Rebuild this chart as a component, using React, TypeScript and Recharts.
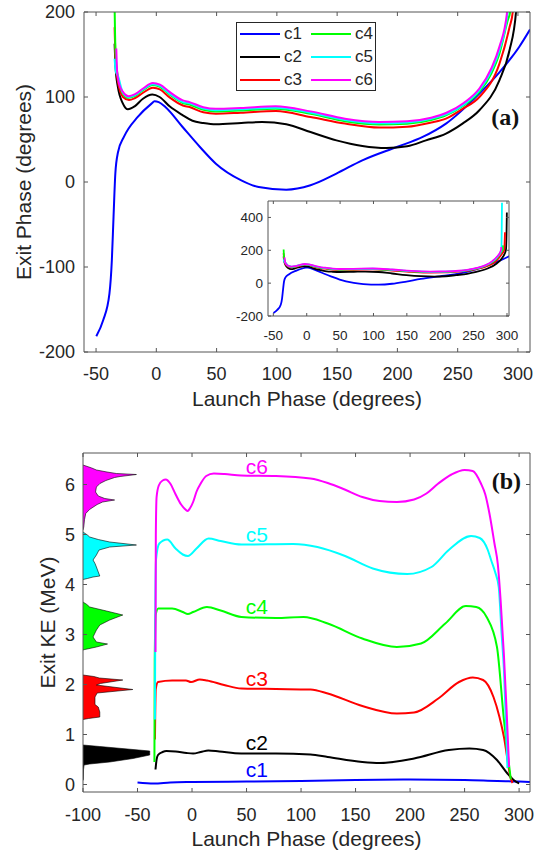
import { Area, ComposedChart, Legend, Line, ReferenceDot, XAxis, YAxis } from 'recharts';

const FONT = '"Liberation Sans", Arial, Helvetica, sans-serif';
const SERIF = '"Liberation Serif", "DejaVu Serif", serif';
const AXIS = '#555';
const TEXT = '#262626';

const names = ['c1', 'c2', 'c3', 'c4', 'c5', 'c6'];
const colors = ['#0000ff', '#000000', '#ff0000', '#00ff00', '#00ffff', '#ff00ff'];

// panel (a): [launch phase, exit phase]
const phaseC1 = [[-49.8, -181.5], [-44.1, -162.7], [-38.9, -131.3], [-36.9, -92], [-35.5, -41], [-34, 10], [-31.8, 35], [-26.9, 53], [-15.4, 76.5], [-4, 92.2], [-1.5, 95], [2, 94], [7.5, 88.2], [21.8, 64.7], [36.2, 41.2], [49.4, 21.6], [70.5, 2], [84.9, -5.9], [107.8, -9], [127.9, -3.8], [149.4, 9.9], [170.9, 25.5], [199.5, 41.2], [221, 53], [240.3, 68.7], [268, 104], [284.6, 129], [301, 158.8], [310, 179.3]];
const phaseC2 = [[-34.6, 162.8], [-33.8, 135], [-31.9, 111.8], [-27.7, 92.2], [-23.6, 85.5], [-18, 89], [-11.1, 98], [-3.3, 102.8], [2.7, 100], [11, 89], [22, 78.5], [30, 72], [39, 69.4], [49.4, 67.9], [70.5, 69.4], [87.7, 70.6], [107.8, 67.9], [127.9, 58.8], [149.4, 49], [170.9, 42.4], [190.9, 40], [208.1, 42], [223.7, 49], [240.3, 57], [254, 68.7], [268, 84.4], [284.6, 119.6], [293, 155], [298.4, 200], [299.3, 300], [299.8, 430]];
const phaseC3 = [[-34.6, 182], [-33.8, 145], [-31.9, 118], [-27.7, 100], [-22.7, 96.5], [-18, 98.5], [-11, 105], [-2.8, 111], [3, 109], [11, 99.5], [22, 90], [27.6, 88.2], [39, 82], [49.4, 80.4], [70, 81.5], [99.2, 83.5], [127.9, 76.5], [156.5, 68.7], [185, 64], [208, 65], [228, 70], [240.3, 74.6], [254, 86], [268, 100], [284.6, 139], [293, 182], [295.7, 200], [296.5, 250], [297, 310]];
const phaseC4 = [[-34.6, 205], [-33.8, 150], [-31.9, 124], [-27.7, 104], [-23, 99], [-18, 101], [-11, 108], [-3, 114], [3, 112], [11, 103], [22, 93], [27.6, 91], [39, 85], [49.4, 83], [70, 84], [99, 86.1], [128, 80.2], [156.5, 71.6], [185, 67.7], [208, 68.6], [228, 73], [240.3, 78.5], [255, 90], [268, 105.9], [278, 128], [284.6, 151], [291.5, 190], [293.5, 200], [294, 230]];
const phaseC5 = [[-34.6, 145], [-33.6, 130], [-31.9, 125], [-27.7, 105], [-23, 100], [-18, 102], [-11, 109], [-3, 115], [3, 113], [11, 104], [22, 94], [27.6, 92.5], [39, 86.5], [49.4, 84.5], [70, 85.5], [99, 87.5], [128, 81.5], [156.5, 73], [185, 69], [208, 70], [228, 74.5], [240.3, 79.6], [255, 91], [268, 108], [278, 131], [284.6, 155], [291.5, 200], [292.5, 490]];
const phaseC6 = [[-33.2, 157], [-32.5, 130], [-31, 116], [-27.7, 106], [-23, 101], [-18, 103], [-11, 110], [-3, 116.5], [3, 114.5], [11, 106], [22, 96], [27.6, 94], [39, 88], [49.4, 86.1], [70, 87], [99, 89], [128, 83.1], [156.5, 74.5], [185, 70.6], [208, 71.4], [228, 75.5], [240.3, 81.2], [255, 93], [268, 110], [278, 134], [284.6, 159], [291, 200], [291.5, 220]];

// panel (b): [launch phase, exit KE]
const keC1 = [[-50, 0.04], [-35, 0.02], [-20, 0.04], [0, 0.05], [50, 0.06], [100, 0.07], [150, 0.09], [200, 0.1], [250, 0.09], [280, 0.07], [300, 0.06], [310, 0.05]];
const keC2 = [[-33.5, 0.3], [-32.5, 0.5], [-31.2, 0.59], [-27, 0.65], [-23.5, 0.67], [-15, 0.66], [-5, 0.63], [1, 0.62], [8, 0.65], [15, 0.68], [25, 0.66], [45, 0.62], [77, 0.62], [108.7, 0.6], [124.5, 0.55], [156.2, 0.45], [172.1, 0.43], [203.7, 0.52], [235.5, 0.69], [254.4, 0.72], [267, 0.69], [279.7, 0.49], [289.3, 0.22], [295.6, 0.08], [300, 0.02]];
const keC3 = [[-34, 0.9], [-33.3, 1.9], [-31.2, 2.05], [-18.3, 2.08], [-5.6, 2.08], [-0.9, 2.05], [7.1, 2.1], [13.7, 2.08], [29.4, 1.99], [45.3, 1.92], [77, 1.91], [108.7, 1.9], [124.5, 1.82], [156.2, 1.57], [187.9, 1.42], [203.7, 1.44], [225.9, 1.72], [244.9, 2.05], [257.5, 2.14], [267, 2.09], [276.5, 1.75], [282, 1.35], [286.1, 0.95], [292.4, 0.12], [294, 0.03]];
const keC4 = [[-34.5, 0.45], [-34.2, 2.5], [-33.3, 3.4], [-30.9, 3.52], [-18.3, 3.52], [-8.5, 3.45], [-3.8, 3.41], [1, 3.45], [13.7, 3.55], [26.3, 3.48], [45.3, 3.35], [77, 3.33], [102.3, 3.35], [124.5, 3.22], [156.2, 2.92], [187.9, 2.75], [210.1, 2.82], [232.3, 3.22], [251.2, 3.57], [260.7, 3.55], [270.2, 3.35], [279.7, 2.75], [286.1, 1.29], [292.4, 0.1]];
const keC5 = [[-34, 1.3], [-33.7, 3.5], [-33, 4.5], [-30, 4.82], [-22.8, 4.9], [-15.1, 4.72], [-8.5, 4.6], [-3.8, 4.57], [4.1, 4.72], [15.2, 4.92], [26.3, 4.87], [45.3, 4.8], [92.8, 4.81], [115, 4.75], [140.4, 4.57], [165.8, 4.32], [197.4, 4.21], [219.6, 4.35], [235.5, 4.69], [256, 4.97], [263.9, 4.93], [271.3, 4.69], [274.3, 4.49], [278, 4.25], [281.3, 3.95], [284, 3.0], [286.1, 2.29], [288, 1.2], [289.3, 0.33]];
const keC6 = [[-33.5, 2.65], [-33.2, 5.0], [-32.5, 5.75], [-30.5, 5.98], [-27, 6.08], [-24, 6.1], [-20, 6.02], [-15, 5.8], [-10, 5.6], [-6, 5.5], [-4, 5.47], [-2, 5.52], [1, 5.65], [4, 5.85], [8, 6.02], [13, 6.17], [20, 6.22], [30, 6.21], [45, 6.18], [77, 6.17], [108.7, 6.12], [124.5, 6.03], [140, 5.9], [156.2, 5.75], [172, 5.67], [187.9, 5.65], [203.7, 5.7], [215, 5.82], [225.9, 6.02], [238, 6.2], [250, 6.29], [257.5, 6.27], [265, 6.02], [269, 5.8], [272.8, 5.42], [277.4, 4.82], [280.5, 4.4], [283, 3.7], [286, 2.62], [288.5, 1.5], [290.8, 0.35]];

// energy histograms on the left of (b): [exit KE, launch-axis extent]
const histC2 = [[0.79, -100], [0.76, -84.6], [0.7, -54.1], [0.67, -38.8], [0.59, -38.8], [0.52, -54.1], [0.45, -75.5], [0.41, -93.9], [0.39, -99], [0.3, -99.5], [0.1, -99.7], [0.08, -100]];
const histC3 = [[2.19, -100], [2.16, -90], [2.13, -85], [2.09, -63.5], [2.02, -84], [1.99, -87.7], [1.9, -54.3], [1.83, -87], [1.75, -89], [1.6, -89], [1.55, -86], [1.45, -84.6], [1.35, -84.6], [1.32, -95], [1.3, -100]];
const histC4 = [[3.65, -100], [3.6, -96.5], [3.55, -93.9], [3.47, -78.5], [3.39, -63.5], [3.29, -75.5], [3.19, -84.6], [3.09, -87.7], [2.95, -90.8], [2.85, -87.7], [2.81, -77.5], [2.75, -87.7], [2.7, -98.4], [2.69, -100]];
const histC5 = [[5.05, -100], [4.99, -96], [4.95, -93.9], [4.9, -86], [4.85, -75.5], [4.79, -51], [4.75, -75.5], [4.69, -85.3], [4.59, -87.7], [4.49, -90.8], [4.42, -89], [4.35, -87.7], [4.25, -86], [4.17, -84.6], [4.15, -90.8], [4.12, -96], [4.1, -100]];
const histC6 = [[6.39, -100], [6.33, -92], [6.29, -87.7], [6.25, -78], [6.22, -69.4], [6.2, -51], [6.16, -66], [6.14, -71], [6.08, -79], [6.02, -84.5], [5.95, -87.7], [5.85, -88.5], [5.77, -86], [5.72, -80], [5.69, -71], [5.65, -82], [5.6, -87], [5.5, -94], [5.42, -97.5], [5.3, -98.6], [5.15, -99.3], [5.09, -100]];

// curve labels in (b): [launch, KE]
const curveLabelPos = [[59.5, 0.29], [59.5, 0.83], [59.5, 2.11], [59.5, 3.55], [59.5, 5.0], [59.5, 6.35]];

const launchTicksA = [-50, 0, 50, 100, 150, 200, 250, 300];
const exitTicksA = [-200, -100, 0, 100, 200];
const exitTicksInset = [-200, 0, 200, 400];
const launchTicksB = [-100, -50, 0, 50, 100, 150, 200, 250, 300];
const keTicks = [0, 1, 2, 3, 4, 5, 6];

const toXY = (pts: number[][]) => pts.map(([x, y]) => ({ x, y }));
const phaseSeries = [phaseC1, phaseC2, phaseC3, phaseC4, phaseC5, phaseC6].map(toXY);
const keSeries = [keC1, keC2, keC3, keC4, keC5, keC6].map(toXY);
const histSets = [histC2, histC3, histC4, histC5, histC6];
const histRows = histSets.flatMap((h, i) => h.map(([ke, v]) => ({ ke, ['h' + (i + 2)]: v })));

const blank = () => '';

function frame(o: {
    xDomain: number[]; xTicks: number[]; yDomain: number[]; yTicks: number[];
    fontSize: number; tick: number; xMargin: number; yMargin: number;
    xHeight: number; yWidth: number; xLabel?: string; xLabelOffset?: number;
    yLabel?: string; yLabelDx?: number;
}) {
    const tickStyle = { fill: TEXT, fontSize: o.fontSize, fontFamily: FONT };
    const titleStyle = { fill: TEXT, fontSize: 21, fontFamily: FONT };
    return [
        <XAxis key="xb" xAxisId="b" type="number" dataKey="x" domain={o.xDomain} ticks={o.xTicks}
            allowDataOverflow stroke={AXIS} tickSize={-o.tick} tickMargin={o.xMargin} height={o.xHeight}
            tick={tickStyle} interval={0}
            label={o.xLabel ? { value: o.xLabel, position: 'insideBottom', offset: o.xLabelOffset, ...titleStyle } : undefined} />,
        <XAxis key="xt" xAxisId="t" orientation="top" type="number" dataKey="x" domain={o.xDomain} ticks={o.xTicks}
            allowDataOverflow stroke={AXIS} tickSize={-o.tick} height={1} tickFormatter={blank} interval={0} />,
        <YAxis key="yl" yAxisId="l" type="number" domain={o.yDomain} ticks={o.yTicks}
            allowDataOverflow stroke={AXIS} tickSize={-o.tick} tickMargin={o.yMargin} width={o.yWidth}
            tick={tickStyle} interval={0}
            label={o.yLabel ? { value: o.yLabel, angle: -90, position: 'center', dx: o.yLabelDx, ...titleStyle } : undefined} />,
        <YAxis key="yr" yAxisId="r" orientation="right" type="number" domain={o.yDomain} ticks={o.yTicks}
            allowDataOverflow stroke={AXIS} tickSize={-o.tick} width={1} tickFormatter={blank} interval={0} />,
    ];
}

function LegendBox() {
    return (
        <div style={{ width: 140, height: 69, border: '1px solid #262626', background: '#fff', boxSizing: 'border-box', position: 'relative', fontFamily: FONT, fontSize: 17, color: TEXT }}>
            {names.map((n, i) => {
                const col = Math.floor(i / 3);
                const row = i % 3;
                return (
                    <div key={n} style={{ position: 'absolute', left: col ? 74 : 3, top: 1 + row * 23, height: 20, display: 'flex', alignItems: 'center' }}>
                        <svg width={40} height={4}><line x1={0} y1={2} x2={40} y2={2} stroke={colors[i]} strokeWidth={2} /></svg>
                        <span style={{ marginLeft: 4, lineHeight: '20px' }}>{n}</span>
                    </div>
                );
            })}
        </div>
    );
}

export default function App() {
    return (
        <div style={{ position: 'absolute', left: 0, top: 0, width: 543, height: 855, background: '#fff' }}>
            {/* (a) exit phase */}
            <div style={{ position: 'absolute', left: 0, top: 0 }}>
                <ComposedChart width={543} height={420} margin={{ top: 11, right: 12, bottom: 0, left: 0 }}>
                    {frame({
                        xDomain: [-60, 310], xTicks: launchTicksA, yDomain: [-200, 200], yTicks: exitTicksA,
                        fontSize: 18, tick: 4, xMargin: 19, yMargin: 13, xHeight: 68, yWidth: 84,
                        xLabel: 'Launch Phase (degrees)', xLabelOffset: 14, yLabel: 'Exit Phase (degrees)', yLabelDx: -18,
                    })}
                    {phaseSeries.map((d, i) => (
                        <Line key={names[i]} xAxisId="b" yAxisId="l" data={d} dataKey="y" name={names[i]} type="monotone"
                            stroke={colors[i]} strokeWidth={2} dot={false} activeDot={false} isAnimationActive={false} />
                    ))}
                    <ReferenceDot xAxisId="b" yAxisId="l" x={289.5} y={76.5} r={1} fill="none" stroke="none"
                        label={{ value: '(a)', position: 'center', fill: '#111', fontSize: 24, fontWeight: 'bold', fontFamily: SERIF }} />
                    <Legend verticalAlign="middle" align="center" wrapperStyle={{ left: 236, top: 22, width: 140, height: 69 }}
                        content={() => <LegendBox />} />
                </ComposedChart>
            </div>

            {/* inset of (a) */}
            <div style={{ position: 'absolute', left: 220, top: 190 }}>
                <ComposedChart width={300} height={160} margin={{ top: 10, right: 10, bottom: 0, left: 0 }}>
                    {frame({
                        xDomain: [-58, 303], xTicks: launchTicksA, yDomain: [-200, 500], yTicks: exitTicksInset,
                        fontSize: 13.5, tick: 3, xMargin: 17, yMargin: 8, xHeight: 34, yWidth: 48,
                    })}
                    {phaseSeries.map((d, i) => (
                        <Line key={names[i]} xAxisId="b" yAxisId="l" data={d} dataKey="y" type="monotone"
                            stroke={colors[i]} strokeWidth={1.8} dot={false} activeDot={false} isAnimationActive={false} />
                    ))}
                </ComposedChart>
            </div>

            {/* (b) histograms */}
            <div style={{ position: 'absolute', left: 0, top: 430 }}>
                <ComposedChart width={543} height={425} layout="vertical" data={histRows}
                    margin={{ top: 23, right: 13, bottom: 63, left: 83 }}>
                    <XAxis type="number" domain={[-100, 310]} hide allowDataOverflow />
                    <YAxis type="number" dataKey="ke" domain={[-0.15, 6.63]} hide reversed allowDataOverflow />
                    {histSets.map((_, i) => (
                        <Area key={i} dataKey={'h' + (i + 2)} type="linear" baseValue="dataMin"
                            fill={colors[i + 1]} fillOpacity={1} stroke="#000" strokeWidth={0.6}
                            dot={false} activeDot={false} isAnimationActive={false} />
                    ))}
                </ComposedChart>
            </div>

            {/* (b) exit KE */}
            <div style={{ position: 'absolute', left: 0, top: 430 }}>
                <ComposedChart width={543} height={425} margin={{ top: 22, right: 12, bottom: 0, left: 0 }}>
                    {frame({
                        xDomain: [-100, 310], xTicks: launchTicksB, yDomain: [-0.15, 6.63], yTicks: keTicks,
                        fontSize: 18, tick: 4, xMargin: 20, yMargin: 12, xHeight: 63, yWidth: 83,
                        xLabel: 'Launch Phase (degrees)', xLabelOffset: 9, yLabel: 'Exit KE (MeV)', yLabelDx: 6.5,
                    })}
                    {keSeries.map((d, i) => (
                        <Line key={names[i]} xAxisId="b" yAxisId="l" data={d} dataKey="y" type="monotone"
                            stroke={colors[i]} strokeWidth={2} dot={false} activeDot={false} isAnimationActive={false} />
                    ))}
                    {curveLabelPos.map(([x, y], i) => (
                        <ReferenceDot key={names[i]} xAxisId="b" yAxisId="l" x={x} y={y} r={1} fill="none" stroke="none"
                            label={{ value: names[i], position: 'center', fill: colors[i], fontSize: 21, fontFamily: FONT }} />
                    ))}
                    <ReferenceDot xAxisId="b" yAxisId="l" x={288.3} y={6.09} r={1} fill="none" stroke="none"
                        label={{ value: '(b)', position: 'center', fill: '#111', fontSize: 24, fontWeight: 'bold', fontFamily: SERIF }} />
                </ComposedChart>
            </div>
        </div>
    );
}
